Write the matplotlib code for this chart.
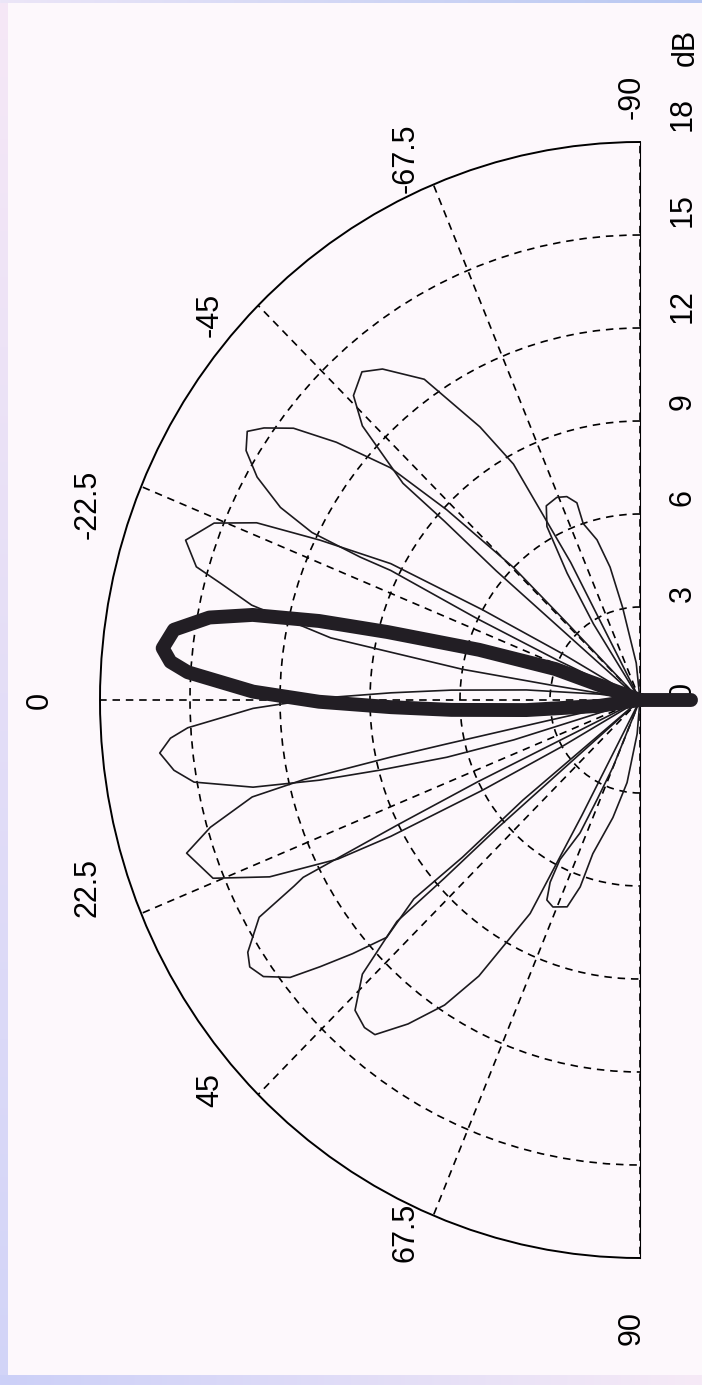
import numpy as np
import matplotlib
matplotlib.use("Agg")
import matplotlib.pyplot as plt
import matplotlib.transforms as mtransforms

# ---------------- data (theta in degrees, r in dB) ----------------
# highlighted (thick) beam steered near -6 deg, plus small back lobe
main_theta = [-22, -19.5, -16.8, -14.6, -13.4, -12, -10.5, -8.3, -6, -4.5, -3.4,
              -1.2, 0.3, 1.6, 2.9, 4.9, 8, 10, 180, 180]
main_r = [0, 3, 5.6, 8.7, 11, 13.2, 14.6, 15.7, 16.0, 15.7, 15.1,
          12.9, 10.7, 8.3, 6.3, 3.8, 1.35, 0, 0, 1.7]

# thin beams
l0_theta = [-10, -8, -4.9, -2.9, -1.6, -0.3, 1.2, 3.4, 4.5, 6.1, 8.3, 10.1,
            12.3, 13.6, 14.6, 16, 17, 19]
l0_r = [0, 1.35, 3.8, 6.3, 8.3, 10.7, 12.9, 15.1, 15.7, 16.1, 15.7, 15.1,
        13.2, 11, 9, 6.7, 4.4, 0]

u1_theta = [-9, -9.2, -9.5, -11, -13.3, -15.1, -16.2, -18.8, -21.9, -24.1,
            -25.8, -27.9, -29, -30, -31]
u1_r = [0, 3, 6, 10.5, 13.3, 14.5, 15.4, 16.0, 15.3, 14.0, 11.85, 9.4, 6, 3, 0]

l1_theta = [11.5, 12.2, 12.4, 12.5, 12.9, 13.6, 16, 18.1, 22, 24.8, 27, 27.9,
            29, 30, 31]
l1_r = [0, 3, 6.6, 8.5, 11.5, 13.3, 14.9, 15.9, 15.35, 13.6, 11.3, 9.4, 6, 3, 0]

u2_theta = [-24, -25, -25.8, -26.7, -26.3, -26.3, -27.4, -29.4, -31.5, -33.5,
            -35, -37.2, -39.4, -42, -43.6, -45.4, -45.6, -46]
u2_r = [0, 3, 6, 9.3, 10.4, 12.2, 13.5, 14.65, 15.4, 15.7, 15.3, 14.5, 13.1,
        11.2, 8.9, 6, 3.5, 0]

l2_theta = [26, 26, 26, 26.5, 27, 27.5, 28.9, 31.9, 33.5, 35.4, 37.5, 38.9,
            40.5, 42.2, 40.4, 40.6, 39.6, 38]
l2_r = [0, 3, 6, 9, 12.6, 13.0, 14.5, 15.4, 15.6, 15.4, 14.7, 13.7, 12.6,
        11.4, 9.9, 7.8, 5.06, 0]

u3_theta = [-40, -41, -41, -41.5, -41.5, -43.7, -45.8, -48.8, -51.2, -55.2,
            -58.8, -61, -62.5, -63]
u3_r = [0, 4, 6.35, 8.7, 10.55, 12.8, 13.7, 14.07, 13.7, 12.6, 10.3, 8.7, 5, 0]

l3_theta = [40, 41, 41, 41.4, 41.4, 43.7, 46.5, 49, 50.7, 53.5, 56.5, 58.9,
            62, 62.5, 63]
l3_r = [0, 4, 6.35, 8.7, 10.8, 12.8, 13.8, 14.0, 13.95, 13.0, 11.8, 10.4,
        7.8, 4.2, 0]

u4_theta = [-56, -57.7, -59.3, -61, -63.5, -67, -69.6, -71.7, -71.6, -74.5,
            -76.9, -79, -84, -88]
u4_r = [0, 2.9, 4.76, 6.4, 7.0, 7.1, 7.0, 6.7, 6.0, 5.36, 4.4, 3.05, 1.2, 0]

l4_theta = [68, 67.4, 66, 65, 62.6, 63, 64.3, 66.5, 70, 71.7, 72.4, 76.6,
            80.8, 85, 88]
l4_r = [0, 2.34, 3.5, 4.73, 5.8, 6.6, 7.16, 7.28, 7.1, 6.35, 5.2, 3.9,
        2.7, 1.1, 0]

# axes ticks / labels
theta_ticks = [-90, -67.5, -45, -22.5, 0, 22.5, 45, 67.5, 90]
theta_labels = ["-90", "-67.5", "-45", "-22.5", "0", "22.5", "45", "67.5", "90"]
r_ticks = [0, 3, 6, 9, 12, 15, 18]
r_labels = ["0", "3", "6", "9", "12", "15", "18"]
r_unit = "dB"
R_MAX = 18

# ---------------- figure ----------------
W, H = 702, 1385
DPI = 100
fig = plt.figure(figsize=(W / DPI, H / DPI), dpi=DPI)

# background with tinted frame strips
bg = np.empty((H, W, 3))
bg[:, :] = np.array([253, 248, 252]) / 255.0
ty = np.linspace(0, 1, H)[:, None]
left_col = (np.array([246, 232, 246]) * (1 - ty) + np.array([210, 212, 248]) * ty) / 255.0
bg[:, :8] = left_col[:, None, :]
tx = np.linspace(0, 1, W)[:, None]
bot_row = (np.array([204, 208, 248]) * (1 - tx) + np.array([246, 234, 246]) * tx) / 255.0
bg[H - 10:, :] = bot_row[None, :, :]
top_row = (np.array([236, 230, 248]) * (1 - tx) + np.array([184, 200, 242]) * tx) / 255.0
bg[:3, :] = top_row[None, :, :]
fig.figimage(bg, xo=0, yo=0, origin="upper", zorder=-10)

# polar axes: origin at (640, 700) px, 30 px/dB horizontally, 31 px/dB vertically
ox, oy = 640, 700
rx, ry = 540, 558
box_w = 2 * rx
box_left = ox - 0.75 * box_w
box_bottom = H - (oy + ry)
ax = fig.add_axes([box_left / W, box_bottom / H, box_w / W, 2 * ry / H],
                  projection="polar")
ax.set_theta_zero_location("W")
ax.set_theta_direction(1)
ax.set_thetamin(-90)
ax.set_thetamax(90)
ax.set_rlim(0, R_MAX)
ax.set_aspect("auto")
ax.set_facecolor("none")

ax.set_thetagrids(theta_ticks, labels=[""] * len(theta_ticks))
ax.set_rgrids([3, 6, 9, 12, 15], labels=[""] * 5)
ax.tick_params(length=0)
ax.grid(True, color="black", linestyle=(0, (4.5, 3.5)), linewidth=1.2)
for name in ("start", "end", "inner"):
    if name in ax.spines:
        ax.spines[name].set_visible(False)
ax.spines["polar"].set_color("black")
ax.spines["polar"].set_linewidth(1.4)

# thin beams
thin = [(l0_theta, l0_r), (u1_theta, u1_r), (l1_theta, l1_r),
        (u2_theta, u2_r), (l2_theta, l2_r), (u3_theta, u3_r),
        (l3_theta, l3_r), (u4_theta, u4_r), (l4_theta, l4_r)]
for th, rr in thin:
    ax.plot(np.deg2rad(th), rr, color="#1c1a1e", linewidth=1.2,
            solid_joinstyle="round", clip_on=False, zorder=3)

# thick beam
ax.plot(np.deg2rad(main_theta), main_r, color="#221e24", linewidth=10,
        solid_joinstyle="round", solid_capstyle="round", clip_on=False, zorder=4)

# angular labels (rotated, as in reference)
font = dict(family="Liberation Sans", size=22, color="black")
ang_pos = {"-90": (-89.2, 19.45), "-67.5": (-65.9, 19.16), "-45": (-40.9, 18.96),
           "-22.5": (-18.9, 19.45), "0": (0.0, 20.0), "22.5": (18.2, 19.37),
           "45": (41.3, 19.07), "67.5": (65.5, 18.86), "90": (89.2, 20.26)}
for lab in theta_labels:
    th, rr = ang_pos[lab]
    ax.text(np.deg2rad(th), rr, lab, rotation=90, ha="center", va="center",
            rotation_mode="anchor", clip_on=False, **font)

# radial labels along the right side
for val, lab in zip(r_ticks, r_labels):
    tr = mtransforms.offset_copy(ax.transData, fig=fig, x=43, y=10 + val,
                                 units="dots")
    ax.text(np.deg2rad(-90), val, lab, transform=tr, rotation=90,
            ha="center", va="center", rotation_mode="anchor", clip_on=False,
            **font)
# unit label in the top-right corner
tr = mtransforms.offset_copy(ax.transData, fig=fig, x=46, y=20,
                             units="dots")
ax.text(np.deg2rad(-90), 20.4, r_unit, transform=tr, rotation=90,
        ha="center", va="center", rotation_mode="anchor", clip_on=False,
        **font)

fig.savefig("out.png", dpi=DPI, facecolor=fig.get_facecolor())
